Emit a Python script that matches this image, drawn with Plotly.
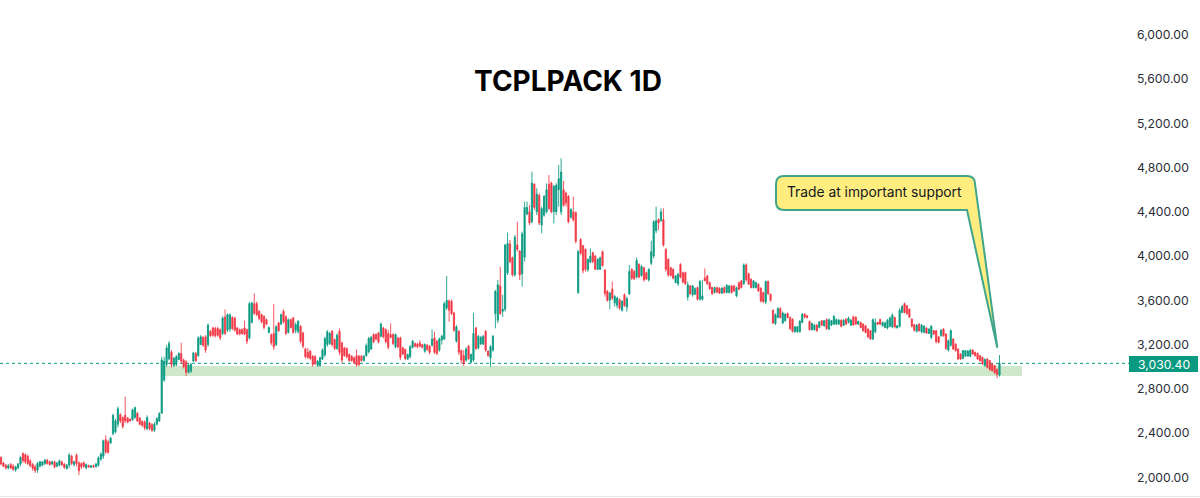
import plotly.graph_objects as go

opens = [
2180,2130,2110,2085,2115,2100,2065,2085,2120,2215,2205,2190,2150,2115,2095,2065,2100,2110,2125,2155,2140,2120,2140,2100,2110,2140,2120,2080,2110,2190,2115,2200,2130,2125,2130,2085,2105,2090,2105,2095,2110,2165,2190,2340,2320,2310,2395,2410,2480,2565,2540,2560,2535,2525,2520,2540,2580,2535,2505,2500,2440,2490,2475,2425,2480,2510,2580,
2880,3020,3070,3130,3010,3020,3065,3120,3060,3045,2950,2960,3050,3120,3100,3200,3265,3270,3200,3320,3350,3345,3345,3335,3300,3450,3330,3340,3445,3440,3350,3335,3335,3350,3335,3260,3400,3570,3570,3500,3470,3455,3425,3310,3290,3300,3200,3395,3385,3500,3450,3310,3425,3440,3330,
3315,3365,3305,3160,3130,3140,3095,3090,3010,3010,3070,3105,3200,3210,3320,3245,3165,3320,3215,3170,3165,3110,3095,3080,3100,3095,3095,3055,3100,3135,3160,3290,3290,3305,3275,3350,3335,3300,3290,3290,3180,3260,3260,3170,3155,3070,3090,3175,3210,3205,3215,3200,3140,3195,3185,3195,3260,3230,3150,3240,3250,3530,3595,3590,3485,3230,3320,3145,3100,3060,3185,3040,3060,3350,3170,3205,3205,3320,3140,3080,3150,
3480,3420,3730,3500,3520,3850,4110,3985,3830,4100,4045,3840,3990,4380,4400,4310,4650,4400,4550,4280,4370,4400,4650,4660,4400,4400,4600,4400,4600,4570,4540,4350,4400,4395,3670,4150,4095,4060,3875,3945,4030,4000,3880,3880,4040,3875,3680,3600,3700,3575,3555,3605,3510,3650,3540,3660,3880,3860,3810,3925,3825,3895,3850,3785,3935,4000,4230,4330,4320,4330,4060,3970,3895,3880,3760,3750,3925,3850,3850,3630,3730,3650,3655,3715,3610,3610,3800,3820,3760,3715,3670,3715,
3710,3665,3715,3670,3670,3730,3730,3640,3760,3775,3750,3920,3840,3790,3715,3715,3745,3710,3670,3585,3770,3655,3510,3390,3445,3525,3395,3415,3480,3445,3430,3315,3315,3315,3400,3475,3460,3410,3335,3335,3375,3355,3415,3370,3425,3340,3375,3385,3385,3385,3420,3375,3430,3400,3375,3450,3445,3385,3400,3385,3370,3340,3325,3250,3315,3400,3425,3370,3355,3350,3365,3360,3445,3350,3365,3490,3570,3550,3520,3430,3380,3320,3385,3315,3310,3350,3300,3265,3325,3325,3270,
3280,3340,3295,3150,3195,3250,3205,3160,3115,3075,3095,3095,3095,3150,3130,3120,3100,3085,3010,3070,3055,3025,3010,2975,2925]

highs = [
2190,2140,2120,2120,2130,2120,2105,2130,2190,2225,2215,2205,2165,2130,2115,2140,2150,2145,2165,2165,2150,2150,2150,2140,2160,2150,2130,2120,2220,2205,2150,2215,2145,2135,2145,2125,2115,2110,2115,2130,2190,2225,2340,2380,2340,2365,2575,2530,2640,2580,2550,2730,2545,2530,2620,2640,2590,2545,2515,2515,2560,2500,2490,2500,2545,2590,3090,
3089,3195,3231,3150,3089,3105,3130,3216,3074,3059,3029,3035,3134,3134,3276,3285,3276,3285,3391,3330,3361,3361,3361,3345,3457,3517,3481,3481,3457,3451,3361,3345,3345,3415,3345,3587,3587,3662,3587,3511,3481,3466,3436,3361,3300,3566,3376,3406,3481,3517,3466,3436,3436,3451,3400,
3422,3376,3316,3172,3170,3150,3105,3105,3060,3090,3165,3271,3331,3316,3331,3256,3301,3346,3226,3181,3175,3120,3105,3090,3156,3105,3105,3105,3211,3271,3277,3301,3301,3316,3400,3361,3346,3331,3391,3301,3301,3271,3271,3181,3165,3120,3196,3241,3217,3217,3241,3205,3211,3205,3196,3337,3316,3241,3265,3290,3587,3819,3608,3608,3497,3376,3331,3156,3150,3175,3196,3120,3488,3361,3286,3277,3286,3331,3150,3196,3286,
3694,3784,3904,3650,4109,4212,4145,3995,4191,4311,4055,4221,4492,4492,4462,4763,4658,4613,4567,4447,4552,4658,4733,4673,4643,4658,4823,4884,4679,4582,4552,4432,4537,4402,4055,4161,4100,4070,3980,4070,4040,4010,3980,3995,4049,3880,3694,3678,3769,3648,3633,3618,3603,3663,3633,3920,3889,3874,3989,3935,3920,3904,3859,3889,4139,4326,4447,4341,4432,4432,4070,3980,3904,3889,3829,3850,3935,3859,3859,3769,3739,3739,3718,3724,3784,3784,3889,3829,3769,3724,3724,3724,
3718,3718,3724,3745,3739,3739,3739,3724,3769,3784,3934,3934,3850,3799,3784,3769,3754,3718,3678,3778,3778,3663,3519,3483,3537,3537,3498,3483,3489,3452,3437,3368,3368,3422,3483,3483,3468,3416,3398,3386,3386,3413,3422,3422,3437,3437,3422,3468,3437,3431,3428,3431,3437,3452,3431,3461,3458,3416,3407,3392,3377,3347,3332,3437,3437,3407,3437,3407,3407,3431,3452,3483,3452,3377,3528,3558,3579,3558,3528,3437,3386,3386,3392,3386,3377,3356,3347,3377,3332,3332,3278,
3338,3347,3302,3247,3338,3257,3211,3166,3121,3151,3151,3151,3157,3157,3136,3127,3106,3091,3076,3076,3061,3031,3015,2985,3106]

lows = [
2110,2090,2070,2070,2075,2060,2050,2075,2100,2130,2120,2110,2090,2060,2040,2040,2090,2100,2110,2115,2105,2110,2080,2090,2100,2100,2075,2070,2080,2110,2100,2100,2020,2075,2085,2075,2085,2085,2085,2090,2095,2150,2165,2210,2215,2300,2380,2395,2450,2490,2440,2490,2490,2505,2510,2530,2500,2470,2455,2425,2425,2425,2410,2410,2470,2500,2575,
2863,2999,3059,2993,2999,3005,3059,3029,2984,2914,2938,2944,3044,3044,3089,3195,3180,3125,3180,3270,3270,3264,3270,3240,3285,3285,3315,3315,3330,3315,3285,3285,3285,3285,3204,3246,3391,3466,3457,3421,3391,3336,3376,3300,3195,3150,3186,3315,3376,3391,3285,3300,3345,3300,3300,
3301,3211,3166,3075,3070,3060,3000,3015,3000,3000,3060,3090,3181,3196,3181,3150,3150,3105,3030,3090,3075,3045,3045,3024,3000,3006,3045,3045,3090,3120,3150,3211,3241,3211,3265,3256,3211,3156,3256,3196,3166,3166,3060,3105,3060,3060,3075,3165,3175,3165,3175,3165,3126,3144,3114,3181,3114,3105,3135,3200,3241,3512,3407,3467,3316,3217,3105,3030,3006,3045,3060,3030,3045,3150,3156,3196,3196,3135,3090,3000,3135,
3347,3392,3468,3450,3498,3829,3935,3814,3814,4040,3784,3724,3950,4371,4281,4296,4417,4371,4281,4206,4356,4387,4417,4387,4296,4371,4447,4371,4447,4447,4296,4341,4311,4115,3657,4010,3844,3859,3859,3935,3935,3874,3874,3874,3904,3633,3588,3519,3603,3543,3528,3513,3498,3543,3498,3648,3784,3784,3799,3799,3814,3769,3784,3769,3920,3980,4206,4236,4311,4085,3859,3814,3814,3790,3754,3730,3799,3754,3739,3597,3648,3633,3648,3597,3597,3597,3769,3739,3694,3648,3663,3663,
3657,3657,3663,3663,3663,3663,3678,3627,3693,3708,3739,3769,3739,3708,3708,3708,3678,3579,3573,3564,3648,3588,3386,3377,3437,3437,3386,3407,3437,3332,3308,3308,3308,3308,3392,3437,3437,3326,3326,3326,3317,3347,3368,3362,3332,3332,3368,3377,3377,3377,3356,3368,3377,3392,3368,3368,3377,3377,3347,3317,3302,3257,3242,3242,3302,3377,3377,3362,3347,3338,3356,3347,3347,3347,3356,3483,3483,3468,3437,3356,3317,3308,3317,3302,3302,3296,3296,3248,3287,3211,3211,
3271,3271,3151,3136,3181,3151,3136,3061,3061,3067,3091,3091,3085,3106,3091,3061,3046,3015,3000,2985,2964,2955,2934,2895,2910]

closes = [
2120,2100,2085,2105,2085,2070,2095,2120,2180,2150,2140,2125,2105,2080,2060,2125,2140,2140,2155,2125,2115,2140,2095,2130,2150,2115,2090,2110,2200,2125,2140,2125,2060,2095,2100,2115,2095,2105,2095,2120,2175,2210,2330,2230,2225,2355,2560,2510,2620,2510,2460,2510,2500,2510,2610,2630,2510,2480,2470,2445,2540,2440,2425,2480,2530,2575,3060,
3050,3170,3210,3020,3075,3090,3120,3050,3000,2950,3015,3020,3125,3055,3260,3270,3195,3150,3375,3280,3285,3280,3285,3260,3440,3300,3470,3470,3345,3330,3295,3295,3300,3295,3230,3570,3575,3485,3470,3435,3405,3355,3385,3355,3215,3180,3360,3325,3470,3405,3300,3425,3355,3310,3380,
3410,3230,3185,3090,3085,3075,3020,3030,3050,3080,3150,3255,3315,3300,3200,3165,3285,3130,3060,3100,3090,3055,3055,3035,3015,3020,3055,3095,3190,3255,3265,3225,3250,3225,3385,3270,3225,3175,3265,3210,3290,3180,3085,3115,3075,3110,3180,3230,3185,3180,3185,3175,3200,3155,3130,3250,3130,3120,3250,3275,3570,3600,3510,3480,3330,3360,3130,3060,3030,3160,3075,3110,3300,3165,3275,3265,3275,3150,3100,3180,3275,
3680,3740,3480,3520,4100,4115,3950,3830,4170,4060,3830,4200,4440,4440,4300,4660,4440,4560,4300,4430,4540,4600,4430,4400,4630,4640,4700,4760,4460,4480,4310,4420,4330,4135,4040,4025,3870,3880,3970,4000,3950,3880,3970,3985,3915,3660,3600,3665,3620,3635,3620,3530,3590,3550,3615,3860,3800,3795,3960,3810,3905,3785,3795,3880,4040,4310,4320,4300,4400,4100,3880,3830,3825,3800,3820,3835,3810,3765,3750,3740,3660,3730,3705,3610,3770,3640,3780,3750,3705,3660,3715,3675,
3665,3710,3670,3735,3730,3670,3685,3715,3700,3715,3920,3785,3745,3715,3775,3760,3685,3595,3590,3770,3660,3600,3395,3470,3525,3445,3485,3475,3445,3345,3320,3360,3360,3410,3475,3450,3445,3335,3390,3375,3325,3405,3375,3415,3345,3425,3415,3455,3425,3420,3365,3420,3385,3440,3420,3380,3385,3410,3355,3325,3310,3270,3250,3425,3400,3385,3385,3400,3395,3420,3440,3465,3360,3370,3510,3545,3490,3480,3450,3365,3330,3375,3325,3375,3365,3305,3340,3365,3295,3225,3220,
3330,3280,3165,3235,3325,3160,3145,3070,3070,3145,3145,3140,3150,3115,3100,3070,3055,3025,3065,2995,2975,2965,2945,2930,3030.4]

tick_values = [2000, 2400, 2800, 3200, 3600, 4000, 4400, 4800, 5200, 5600, 6000]
last_price = closes[-1]
zone_low, zone_high = 2916, 3006
title_text = "TCPLPACK 1D"
callout_text = "Trade at important support"

N = min(len(opens), len(highs), len(lows), len(closes))
print(len(opens), len(highs), len(lows), len(closes))
dates = list(range(N))

W, H = 1200, 498
PLOT_R = 1136
spacing = 998.5 / (N - 1)
px = lambda v: v / PLOT_R
py = lambda v: 1 - v / H
UP, DOWN = "#089981", "#F23645"

fig = go.Figure(go.Candlestick(
    x=dates, open=opens[:N], high=highs[:N], low=lows[:N], close=closes[:N],
    increasing=dict(line=dict(color=UP, width=0.85), fillcolor=UP),
    decreasing=dict(line=dict(color=DOWN, width=0.85), fillcolor=DOWN),
    whiskerwidth=0, hoverinfo="skip", showlegend=False))

L, R, T, B, r = 776, 975, 176, 210, 8
callout = (f"M {px(L+r)} {py(T)} L {px(R-r)} {py(T)} Q {px(R)} {py(T)} {px(R)} {py(T+r)} "
           f"L {px(997.3)} {py(347.7)} L {px(967)} {py(B)} L {px(L+r)} {py(B)} "
           f"Q {px(L)} {py(B)} {px(L)} {py(B-r)} L {px(L)} {py(T+r)} Q {px(L)} {py(T)} {px(L+r)} {py(T)} Z")

fig.update_layout(
    width=W, height=H, margin=dict(l=0, r=W - PLOT_R, t=0, b=0),
    paper_bgcolor="white", plot_bgcolor="white", showlegend=False,
    title=dict(text=f"<b>{title_text}</b>", x=568 / W, xanchor="center", xref="container",
               y=1 - 81 / H, yanchor="middle", yref="container",
               font=dict(family="Inter", size=28, color="#000000")),
    xaxis=dict(range=[-1 / spacing, (PLOT_R - 1) / spacing], visible=False,
               rangeslider=dict(visible=False), showgrid=False, zeroline=False),
    yaxis=dict(range=[1813, 6315], side="right", tickvals=tick_values, tickformat=",.2f",
               showgrid=False, zeroline=False, showline=False, ticks="", ticklen=0,
               ticklabelposition="outside",
               tickfont=dict(family="Inter", size=12.2, color="#2a2e39")),
    shapes=[
        dict(type="rect", xref="paper", yref="y", x0=px(161), x1=px(1022),
             y0=zone_low, y1=zone_high, fillcolor="#CFE7CB", line=dict(width=0), layer="below"),
        dict(type="line", xref="paper", yref="y", x0=0, x1=px(1129), y0=last_price, y1=last_price,
             line=dict(color=UP, width=1, dash="dot"), layer="below"),
        dict(type="path", xref="paper", yref="paper", path=callout,
             fillcolor="#FFEE7F", line=dict(color="#3FA68C", width=2)),
        dict(type="rect", xref="paper", yref="paper", x0=px(1129), x1=px(1198), y0=py(372), y1=py(356),
             fillcolor=UP, line=dict(width=0)),
        dict(type="line", xref="paper", yref="paper", x0=0, x1=px(1200), y0=py(496.5), y1=py(496.5),
             line=dict(color="#E6E8EE", width=1)),
    ],
    annotations=[
        dict(xref="paper", yref="paper", x=px(785), y=py(192), xanchor="left", yanchor="middle",
             text=callout_text, showarrow=False, font=dict(family="Inter", size=13.8, color="#131722")),
        dict(xref="paper", yref="paper", x=px(1163.5), y=py(364), xanchor="center", yanchor="middle",
             text=f"{last_price:,.2f}", showarrow=False, font=dict(family="Inter", size=12.2, color="#ffffff")),
    ],
)
fig.write_html("out.html", config=dict(displayModeBar=False),
               post_script="document.body.style.margin='0';")
